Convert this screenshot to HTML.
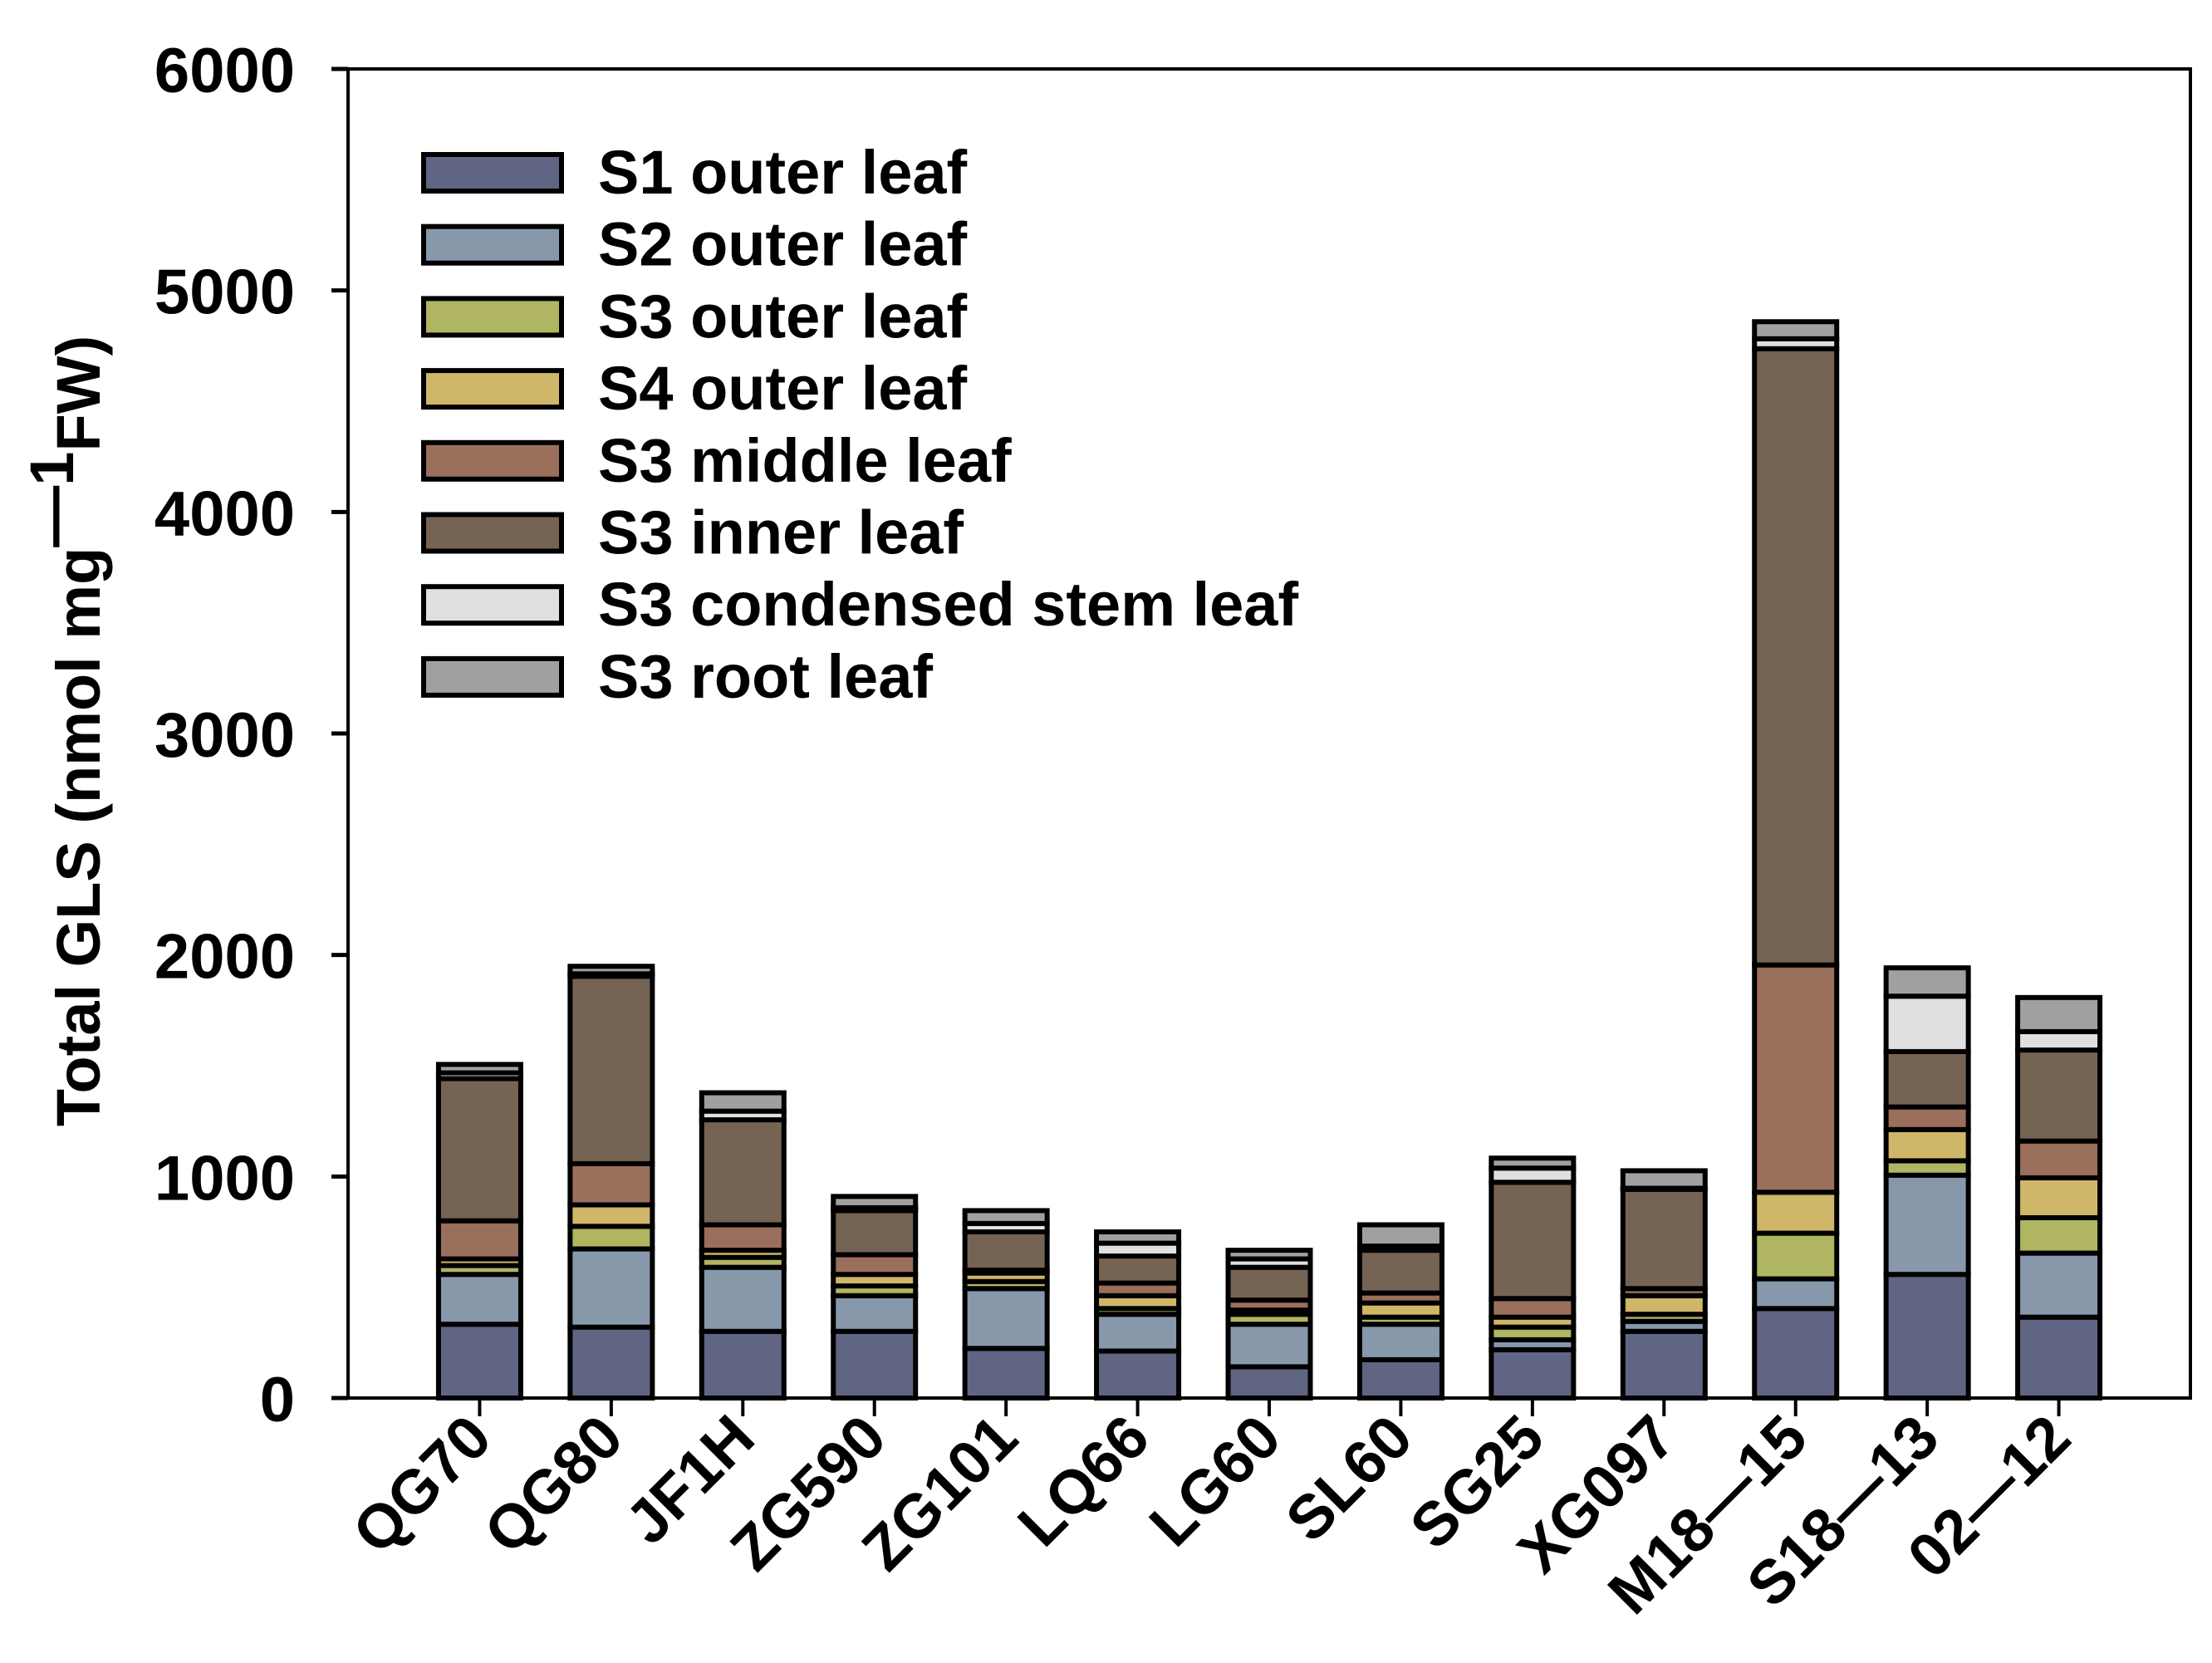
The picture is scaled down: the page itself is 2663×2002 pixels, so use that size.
<!DOCTYPE html>
<html><head><meta charset="utf-8"><style>
html,body{margin:0;padding:0;background:#fff;}
svg{display:block;font-family:"Liberation Sans",Arial,sans-serif;font-weight:bold;}
</style></head><body>
<svg id="chart" width="2663" height="2002" viewBox="0 0 2663 2002" xmlns="http://www.w3.org/2000/svg">
<g id="plot"></g>
<g id="axes"></g>
<g id="legend"></g>
<text transform="translate(120,880) rotate(-90)" text-anchor="middle" font-size="74">Total GLS (nmol mg<tspan dy="-32">—1</tspan><tspan dy="32">FW)</tspan></text>
</svg>
<script>
const categories = ["QG70","QG80","JF1H","ZG590","ZG101","LQ66","LG60","SL60","SG25","XG097","M18—15","S18—13","02—12"];
const seriesNames = ["S1 outer leaf","S2 outer leaf","S3 outer leaf","S4 outer leaf","S3 middle leaf","S3 inner leaf","S3 condensed stem leaf","S3 root leaf"];
const s1Outer = [333,320,301,301,224,212,141,173,218,301,404,558,365];
const s2Outer = [225,353,289,161,270,166,192,160,45,45,134,448,289];
const s3Outer = [40,102,45,44,32,26,45,32,57,32,206,65,160];
const s4Outer = [30,97,32,52,38,58,19,64,45,84,185,141,180];
const s3Middle = [172,186,115,89,13,57,45,45,84,32,1026,102,166];
const s3Inner = [642,846,474,199,173,122,148,193,525,448,2782,250,411];
const s3Condensed = [26,11,39,13,38,58,38,19,64,5,45,250,83];
const s3Root = [38,34,83,51,58,51,39,96,45,79,77,128,154];
const yTicks = [0,1000,2000,3000,4000,5000,6000];

const series = [s1Outer,s2Outer,s3Outer,s4Outer,s3Middle,s3Inner,s3Condensed,s3Root];
const colors = ["#606583","#8898ab","#b0b561","#d0b668","#9a6f5c","#756354","#e0e0e0","#a0a0a0"];
const NS="http://www.w3.org/2000/svg";
const L=419,R=2637,T=83,B=1683,yMax=6000;
const y=v=>B-(v/yMax)*(B-T);
const x=i=>L+(i+1)*(R-L)/(categories.length+1);
const bw=99;
function mk(tag,attrs,parent){const e=document.createElementNS(NS,tag);for(const k in attrs)e.setAttribute(k,attrs[k]);parent.appendChild(e);return e;}
const plot=document.getElementById('plot'),axes=document.getElementById('axes'),legend=document.getElementById('legend');
categories.forEach((c,i)=>{
  let base=0;
  series.forEach((s,j)=>{
    const v=s[i];
    const r=mk('rect',{x:x(i)-bw/2,y:y(base+v),width:bw,height:Math.max(0,y(base)-y(base+v)),fill:colors[j],stroke:'#000','stroke-width':6},plot);
    
    
    base+=v;
  });
  const t=mk('line',{x1:x(i),x2:x(i),y1:B,y2:B+22,stroke:'#000','stroke-width':4},axes);
  
  
  const lb=mk('text',{transform:`translate(${x(i)+18},${B+52}) rotate(-45)`,'text-anchor':'end','font-size':74},axes);
  
  
  lb.textContent=c;
});
const frame=mk('rect',{x:L,y:T,width:R-L,height:B-T,fill:'none',stroke:'#000','stroke-width':4},axes);


yTicks.forEach(v=>{
  const t=mk('line',{x1:L-20,x2:L,y1:y(v),y2:y(v),stroke:'#000','stroke-width':5},axes);
  
  
  const lb=mk('text',{x:355,y:y(v)+28,'text-anchor':'end','font-size':76},axes);
  
  
  lb.textContent=v;
});
seriesNames.forEach((n,j)=>{
  const cy=208+j*86.7;
  const g=mk('g',{},legend);
  
  
  mk('rect',{x:510,y:cy-22,width:166,height:44,fill:colors[j],stroke:'#000','stroke-width':6},g);
  const t=mk('text',{x:720,y:cy+25,'font-size':74},g);
  t.textContent=n;
});
</script>
</body></html>
